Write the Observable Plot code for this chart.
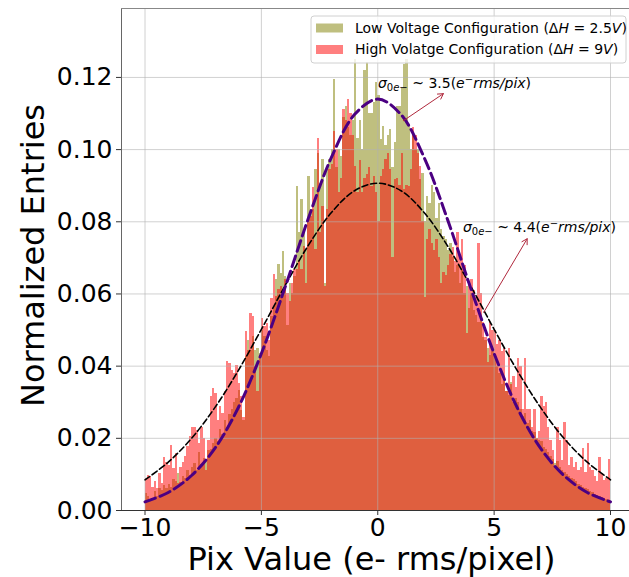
<!DOCTYPE html>
<html><head><meta charset="utf-8">
<script src="https://cdn.jsdelivr.net/npm/d3@7"></script>
<script src="https://cdn.jsdelivr.net/npm/@observablehq/plot@0.6"></script>
<style>
html,body{margin:0;padding:0;background:#fff;overflow:hidden}
svg{display:block}
</style></head><body><div id="chart"></div>
<script>
// ---- data ----
const binStart = -10;
const binWidth = 0.1;

const lowVoltage = [
0.0046,0.0040,0.0028,0.0030,0.0052,0.0038,0.0062,0.0055,0.0068,0.0060,
0.0072,0.0065,0.0085,0.0080,0.0102,0.0078,0.0095,0.0090,0.0110,0.0098,
0.0118,0.0130,0.0112,0.0160,0.0128,0.0145,0.0140,0.0165,0.0170,0.0185,
0.0200,0.0190,0.0225,0.0210,0.0250,0.0230,0.0265,0.0280,0.0300,0.0310,
0.0333,0.0278,0.0250,0.0426,0.0472,0.0444,0.0481,0.0444,0.0450,0.0435,
0.0500,0.0481,0.0444,0.0426,0.0537,0.0565,0.0639,0.0681,0.0657,0.0718,
0.0648,0.0514,0.0630,0.0602,0.0648,0.0898,0.0769,0.0861,0.0769,0.0722,
0.0926,0.0833,0.0833,0.0944,0.0990,0.0907,0.0972,0.0630,0.0954,0.0972,
0.1000,0.1194,0.0950,0.1000,0.0980,0.1090,0.1120,0.1060,0.1040,0.1080,
0.1250,0.1030,0.1080,0.1000,0.1220,0.1240,0.1100,0.1100,0.1130,0.1185,
0.1150,0.1028,0.1065,0.1010,0.1040,0.1056,0.0950,0.1020,0.1120,0.1120,
0.1170,0.1236,0.1250,0.1065,0.1000,0.1040,0.1000,0.1000,0.0917,0.0935,
0.0800,0.0870,0.0850,0.0900,0.0880,0.0810,0.0850,0.0780,0.0760,0.0750,
0.0720,0.0740,0.0700,0.0660,0.0680,0.0630,0.0665,0.0600,0.0620,0.0560,
0.0600,0.0555,0.0540,0.0520,0.0535,0.0480,0.0470,0.0450,0.0430,0.0440,
0.0420,0.0400,0.0380,0.0350,0.0360,0.0330,0.0320,0.0355,0.0300,0.0310,
0.0300,0.0280,0.0260,0.0270,0.0240,0.0250,0.0220,0.0215,0.0200,0.0195,
0.0190,0.0175,0.0170,0.0160,0.0150,0.0140,0.0130,0.0135,0.0120,0.0110,
0.0105,0.0100,0.0095,0.0090,0.0085,0.0080,0.0072,0.0070,0.0065,0.0060,
0.0058,0.0052,0.0050,0.0045,0.0042,0.0040,0.0035,0.0033,0.0030,0.0028
];

const highVoltage = [
0.0088,0.0097,0.0093,0.0065,0.0079,0.0062,0.0102,0.0074,0.0148,0.0134,
0.0125,0.0180,0.0116,0.0157,0.0076,0.0120,0.0134,0.0150,0.0176,0.0204,
0.0231,0.0231,0.0222,0.0185,0.0231,0.0199,0.0111,0.0194,0.0315,0.0338,
0.0324,0.0250,0.0287,0.0270,0.0330,0.0412,0.0407,0.0389,0.0380,0.0403,
0.0352,0.0315,0.0259,0.0495,0.0444,0.0546,0.0537,0.0398,0.0329,0.0426,
0.0532,0.0509,0.0519,0.0472,0.0588,0.0653,0.0593,0.0611,0.0620,0.0593,
0.0639,0.0602,0.0579,0.0630,0.0667,0.0667,0.0694,0.0667,0.0731,0.0630,
0.0806,0.0815,0.0894,0.0722,0.1030,0.0769,0.0843,0.0620,0.0833,0.0944,
0.0960,0.1050,0.1000,0.0880,0.0920,0.1110,0.1080,0.1140,0.1100,0.1040,
0.0954,0.0880,0.0970,0.0880,0.0920,0.0930,0.0950,0.0898,0.0926,0.0880,
0.0800,0.0926,0.0944,0.0972,0.0990,0.0944,0.0700,0.0917,0.0920,0.0900,
0.0990,0.0889,0.0900,0.0898,0.0944,0.1060,0.1040,0.0990,0.0954,0.0800,
0.0590,0.0750,0.0780,0.0740,0.0720,0.0750,0.0700,0.0630,0.0660,0.0650,
0.0680,0.0710,0.0730,0.0690,0.0770,0.0700,0.0750,0.0680,0.0490,0.0630,
0.0640,0.0610,0.0590,0.0740,0.0600,0.0520,0.0480,0.0410,0.0520,0.0500,
0.0500,0.0460,0.0470,0.0440,0.0450,0.0330,0.0450,0.0350,0.0370,0.0340,
0.0420,0.0400,0.0280,0.0420,0.0280,0.0280,0.0230,0.0280,0.0200,0.0220,
0.0315,0.0287,0.0300,0.0230,0.0194,0.0167,0.0120,0.0230,0.0194,0.0139,
0.0245,0.0194,0.0125,0.0148,0.0120,0.0134,0.0111,0.0120,0.0171,0.0106,
0.0185,0.0120,0.0111,0.0093,0.0079,0.0148,0.0102,0.0083,0.0090,0.0140
];

const fitX = [-10,-9,-8,-7,-6,-5,-4,-3,-2,-1,0,1,2,3,4,5,6,7,8,9,10];
const fitLow = [0.0024,0.0050,0.0097,0.0172,0.0284,0.0435,0.0615,0.0806,0.0977,0.1097,0.1140,
                0.1097,0.0977,0.0806,0.0615,0.0435,0.0284,0.0172,0.0097,0.0050,0.0024];
const fitHigh = [0.0085,0.0134,0.0200,0.0285,0.0387,0.0502,0.0621,0.0733,0.0825,0.0886,0.0907,
                 0.0886,0.0825,0.0733,0.0621,0.0502,0.0387,0.0285,0.0200,0.0134,0.0085];

const xTicks = [-10, -5, 0, 5, 10];
const yTicks = [0, 0.02, 0.04, 0.06, 0.08, 0.10, 0.12];
const sigmaLabels = ["3.5", "4.4"];
const legendLabels = ["Low Voltage Configuration", "High Volatge Configuration"];
const legendDeltaH = ["2.5", "9"];
const xLabel = "Pix Value (e- rms/pixel)";
const yLabel = "Normalized Entries";

// annotation anchors in data units
const annotTextX = [0.03, 3.68];
const annotTextY = [0.1169, 0.0770];
const arrowFrom = [[1.10, 0.1080], [4.55, 0.0549]];
const arrowTo = [[2.82, 0.1155], [6.42, 0.0753]];

// ---- build tables ----
const toBins = arr => arr.map((v, i) => ({x1: binStart + i * binWidth, x2: binStart + (i + 1) * binWidth, y: v}));
const lowBins = toBins(lowVoltage);
const highBins = toBins(highVoltage);
const lowFit = fitX.map((x, i) => ({x, y: fitLow[i]}));
const highFit = fitX.map((x, i) => ({x, y: fitHigh[i]}));
const arrows = arrowFrom.map((a, i) => ({x1: a[0], y1: a[1], x2: arrowTo[i][0], y2: arrowTo[i][1]}));

const FONT = "DejaVu Sans";
const minus = d => (d < 0 ? "\u2212" + Math.abs(d) : String(d));

const plot = Plot.plot({
  width: 629, height: 577,
  marginLeft: 121, marginRight: 0, marginTop: 8, marginBottom: 67,
  style: {fontFamily: FONT, background: "white", overflow: "visible"},
  x: {domain: [-11.01, 10.816], label: null},
  y: {domain: [0, 0.1391], label: null},
  marks: [
    Plot.rectY(lowBins, {x1: "x1", x2: "x2", y: "y", fill: "olive", fillOpacity: 0.5, inset: 0, shapeRendering: "crispEdges"}),
    Plot.rectY(highBins, {x1: "x1", x2: "x2", y: "y", fill: "red", fillOpacity: 0.5, inset: 0, shapeRendering: "crispEdges"}),
    Plot.gridX(xTicks, {stroke: "#b0b0b0", strokeOpacity: 0.6, strokeWidth: 1}),
    Plot.gridY(yTicks, {stroke: "#b0b0b0", strokeOpacity: 0.6, strokeWidth: 1}),
    Plot.line(highFit, {x: "x", y: "y", stroke: "black", strokeWidth: 1.6, strokeDasharray: "6,3", curve: "catmull-rom"}),
    Plot.line(lowFit, {x: "x", y: "y", stroke: "#4b0082", strokeWidth: 3, strokeDasharray: "11,5", curve: "catmull-rom"}),
    Plot.arrow(arrows, {x1: "x1", y1: "y1", x2: "x2", y2: "y2", stroke: "#b0283c", strokeWidth: 1, headLength: 9}),
    Plot.ruleX([-11.01], {stroke: "#666", strokeWidth: 1}),
    Plot.ruleY([0.1391], {stroke: "#888", strokeWidth: 1}),
    Plot.ruleY([0], {stroke: "#333", strokeWidth: 1.2}),
    Plot.axisX(xTicks, {tickFormat: minus, fontSize: 25, tickSize: 5, tickPadding: 3, label: null, stroke: "#333", fill: "black"}),
    Plot.axisY(yTicks, {tickFormat: d3.format(".2f"), fontSize: 25, tickSize: 5, tickPadding: 4, label: null, stroke: "#333", fill: "black"}),
    Plot.text([xLabel], {frameAnchor: "bottom", textAnchor: "middle", lineAnchor: "middle", dx: -4, dy: 49, fontSize: 32, fill: "black"}),
    Plot.text([yLabel], {frameAnchor: "left", textAnchor: "middle", lineAnchor: "middle", dx: -88, dy: -4, rotate: -90, fontSize: 32, fill: "black"})
  ]
});
document.getElementById("chart").appendChild(plot);

// ---- annotations with sub/superscripts ----
const svg = d3.select(plot);
const xs = plot.scale("x"), ys = plot.scale("y");
const ann = svg.append("g").attr("font-family", FONT).attr("fill", "black").attr("text-anchor", "start");
sigmaLabels.forEach((val, i) => {
  const t = ann.append("text")
    .attr("x", xs.apply(annotTextX[i])).attr("y", ys.apply(annotTextY[i]))
    .attr("font-size", 14);
  t.append("tspan").attr("font-style", "italic").text("σ");
  t.append("tspan").attr("font-size", 10).attr("dy", 3).text("0");
  t.append("tspan").attr("font-size", 10).attr("font-style", "italic").text("e");
  t.append("tspan").attr("font-size", 10).text("\u2212");
  t.append("tspan").attr("dy", -3).text(" ~ " + val + "(");
  t.append("tspan").attr("font-style", "italic").text("e");
  t.append("tspan").attr("font-size", 10).attr("dy", -5).text("\u2212");
  t.append("tspan").attr("dy", 5).attr("font-style", "italic").text("rms/pix");
  t.append("tspan").text(")");
});

// ---- legend ----
const lg = svg.append("g").attr("font-family", FONT).attr("text-anchor", "start");
lg.append("rect").attr("x", 311).attr("y", 16).attr("width", 315).attr("height", 47)
  .attr("rx", 3).attr("fill", "white").attr("fill-opacity", 0.8).attr("stroke", "#d0d0d0");
const swatch = ["olive", "red"];
legendLabels.forEach((lab, i) => {
  const cy = 28 + i * 21.5;
  lg.append("rect").attr("x", 316).attr("y", cy - 4.5).attr("width", 27).attr("height", 9)
    .attr("fill", swatch[i]).attr("fill-opacity", 0.5);
  const t = lg.append("text").attr("x", 355).attr("y", cy).attr("dy", "0.35em").attr("font-size", 14).attr("fill", "black");
  t.append("tspan").text(lab + " (Δ");
  t.append("tspan").attr("font-style", "italic").text("H");
  t.append("tspan").text(" = " + legendDeltaH[i]);
  t.append("tspan").attr("font-style", "italic").text("V");
  t.append("tspan").text(")");
});
</script>
</body></html>
